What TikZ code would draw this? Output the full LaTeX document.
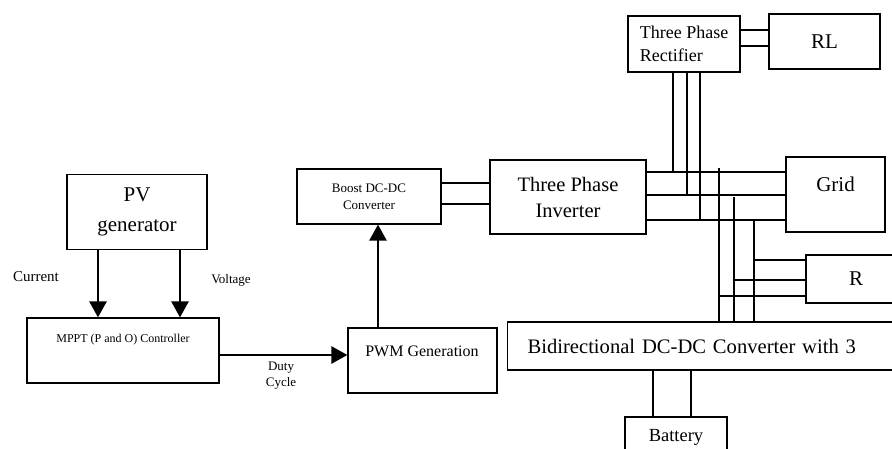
\documentclass[tikz,border=0pt]{standalone}
\usepackage{fontspec}
\setmainfont{Liberation Serif}
\usetikzlibrary{arrows.meta,positioning}

\begin{document}
\begin{tikzpicture}[x=1pt,y=-1pt,>={Triangle[width=17pt,length=16pt]},
        block/.style={rectangle,draw=black,line width=1.2pt,inner sep=0pt},
        wire/.style={line width=2.6pt},
        thinwire/.style={line width=1.4pt},
        sig/.style={->,line width=2.6pt},
        fsz/.style 2 args={font=\fontsize{#1}{#2}\selectfont}]
  \useasboundingbox (0,0) rectangle (892,448);
  % blocks
  \node[block,minimum width=140pt,minimum height=75pt,align=center,fsz={21}{30}] (pv) at (137,212) {PV\\generator};
  \node[block,minimum width=192pt,minimum height=65pt] (mppt) at (123,350.5) {};
  \node[fsz={12}{14}] (mpptt) at (123,340) {MPPT (P and O) Controller};
  \node[block,minimum width=149pt,minimum height=65pt] (pwm) at (422.5,360.5) {};
  \node[fsz={16}{18}] (pwmt) at (422,351) {PWM Generation};
  \node[block,minimum width=144pt,minimum height=55pt,align=center,fsz={13}{17}] (boost) at (369,196.5) {Boost DC-DC\\Converter};
  \node[block,minimum width=156pt,minimum height=74pt,align=center,fsz={20.5}{26}] (inv) at (568,197) {Three Phase\\Inverter};
  \node[block,minimum width=112pt,minimum height=56pt,align=left,fsz={18}{23}] (rect) at (684,44) {Three Phase\\Rectifier};
  \node[block,minimum width=111pt,minimum height=55pt,fsz={21}{24}] (rl) at (824.5,41.5) {RL};
  \node[block,minimum width=99pt,minimum height=75pt] (grid) at (835.5,194.5) {};
  \node[fsz={21}{24}] (gridt) at (835.5,184) {Grid};
  \node[block,minimum width=100pt,minimum height=48pt,fsz={21}{24}] (r) at (856,279) {R};
  \node[block,anchor=west,minimum height=48pt,text width=360pt,inner xsep=20pt,align=left,fsz={20.6}{24}] (bidir) at (507,346) {Bidirectional DC-DC Converter with 3};
  \node[block,minimum width=102pt,minimum height=40pt,fsz={18.5}{22}] (bat) at (676,437) {Battery};
  % labels
  \node[fsz={15}{17}] (cur) at (36,277) {Current};
  \node[fsz={13}{15}] (volt) at (231,280) {Voltage};
  \node[fsz={13}{16},align=center] (duty) at (281,376) {Duty\\Cycle};
  % control path
  \draw[sig] ([xshift=-39pt]pv.south) -- ([xshift=-39pt]pv.south |- mppt.north);
  \draw[sig] ([xshift=43pt]pv.south) -- ([xshift=43pt]pv.south |- mppt.north);
  \draw[sig] ([yshift=-4.5pt]mppt.east) -- ([yshift=-4.5pt]mppt.east -| pwm.west);
  \draw[sig] ([xshift=-44.5pt]pwm.north) -- ([xshift=-44.5pt]pwm.north |- boost.south);
  % power path
  \foreach \s in {13.5,-7.5}
    \draw[wire] ([yshift=\s pt]boost.east) -- ([yshift=\s pt]boost.east -| inv.west);
  \foreach \s in {14,-2}
    \draw[thinwire] ([yshift=\s pt]rect.east) -- ([yshift=\s pt]rect.east -| rl.west);
  \foreach \s/\n in {25/1,2/2,-23/3}
    \coordinate (o\n) at ([yshift=\s pt]inv.east);
  \foreach \n in {1,2,3}
    \draw[wire] (o\n) -- (o\n -| grid.west);
  \foreach \s/\n in {-11/1,3/2,16/3}
    \draw[wire] ([xshift=\s pt]rect.south) -- ([xshift=\s pt]rect.south |- o\n);
  \coordinate (d1) at (719,168);
  \coordinate (d2) at (734,197);
  \coordinate (d3) at (754,220);
  \foreach \n in {1,2,3}
    \draw[wire] (d\n) -- (d\n |- bidir.north);
  \foreach \s/\n in {19/3,-1/2,-17/1}
    \draw[wire] ([yshift=\s pt]r.west -| d\n) -- ([yshift=\s pt]r.west);
  \foreach \s in {-23,15}
    \draw[wire] ([xshift=\s pt]bat.north) -- ([xshift=\s pt]bat.north |- bidir.south);
\end{tikzpicture}
\end{document}
